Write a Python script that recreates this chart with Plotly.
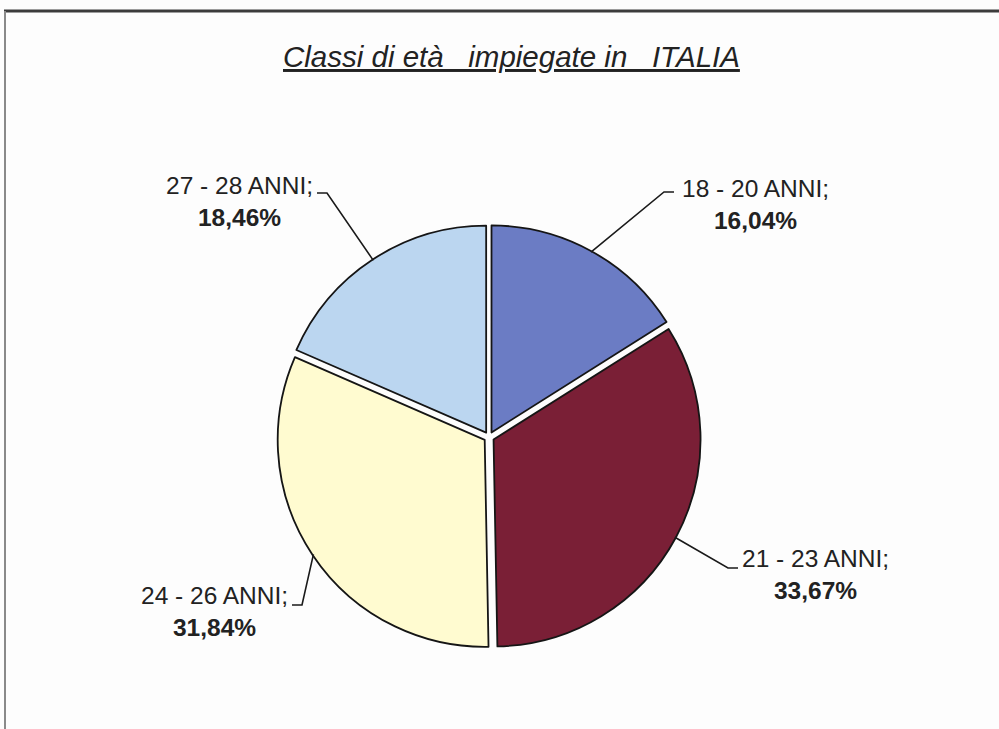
import math
import plotly.graph_objects as go

# ---- data ----
categories = ["18 - 20 ANNI", "21 - 23 ANNI", "24 - 26 ANNI", "27 - 28 ANNI"]
values = [16.04, 33.67, 31.84, 18.46]
colors = ["#6B7CC4", "#7A1F36", "#FFFBD0", "#BBD6F0"]
title_text = "Classi di età\u00a0\u00a0 impiegate in\u00a0\u00a0 ITALIA"

# ---- layout constants (pixels) ----
W, H = 999, 729
CX, CY, R = 489, 437, 207
PULL = 0.025
FONT = "Liberation Sans, Arial, sans-serif"
TXT = "#222222"

# label placement: text x, text block middle y, anchor, elbow x, elbow y, tail x
label_layout = [
    (680, 204, "left", 664, 192, 674),
    (740, 574, "left", 728, 568, 738),
    (290, 611, "right", 302, 605, 292),
    (315, 202, "right", 327, 193, 317),
]

def px(x):
    return x / W

def py(y):
    return 1 - y / H

half = R * (1 + PULL)
fig = go.Figure(go.Pie(
    labels=categories,
    values=values,
    sort=False,
    direction="clockwise",
    rotation=0,
    pull=[PULL] * len(values),
    marker=dict(colors=colors, line=dict(color="#151515", width=1.8)),
    textinfo="none",
    hoverinfo="label+percent",
    showlegend=False,
    domain=dict(x=[px(CX - half), px(CX + half)], y=[py(CY + half), py(CY - half)]),
))

total = sum(values)
shapes = []
annotations = []
cum = 0.0
for cat, v, (tx, ty, anchor, ex, ey, tl) in zip(categories, values, label_layout):
    mid = (cum + v / 2) / total * 2 * math.pi
    cum += v
    rr = R * (1 + PULL) - 1
    sx = CX + rr * math.sin(mid)
    sy = CY - rr * math.cos(mid)
    shapes.append(dict(
        type="path", xref="paper", yref="paper",
        path=f"M {px(sx)} {py(sy)} L {px(ex)} {py(ey)} L {px(tl)} {py(ey)}",
        line=dict(color="#1a1a1a", width=1.6),
    ))
    pct = f"{v:.2f}".replace(".", ",") + "%"
    annotations.append(dict(
        x=px(tx), y=py(ty), xref="paper", yref="paper",
        xanchor=anchor, yanchor="middle", align="center",
        text=f"{cat};<br><b>{pct}</b>", showarrow=False,
        font=dict(family=FONT, size=24.5, color=TXT),
    ))

annotations.append(dict(
    x=px(511), y=py(57), xref="paper", yref="paper",
    xanchor="center", yanchor="middle", showarrow=False,
    text=f"<i>{title_text}</i>",
    font=dict(family=FONT, size=29.5, color=TXT, lineposition="under"),
))

# frame lines
shapes.append(dict(type="line", xref="paper", yref="paper",
                   x0=px(4), x1=1, y0=py(11), y1=py(11),
                   line=dict(color="#3c3c3c", width=3)))
shapes.append(dict(type="line", xref="paper", yref="paper",
                   x0=px(5), x1=px(5), y0=py(11), y1=0,
                   line=dict(color="#8a8a8a", width=2)))

fig.update_layout(
    width=W, height=H,
    margin=dict(l=0, r=0, t=0, b=0),
    paper_bgcolor="#fdfdfd",
    plot_bgcolor="#fdfdfd",
    shapes=shapes,
    annotations=annotations,
)

fig.write_html("out.html", config={"displayModeBar": False},
               post_script="document.body.style.margin='0px';")
